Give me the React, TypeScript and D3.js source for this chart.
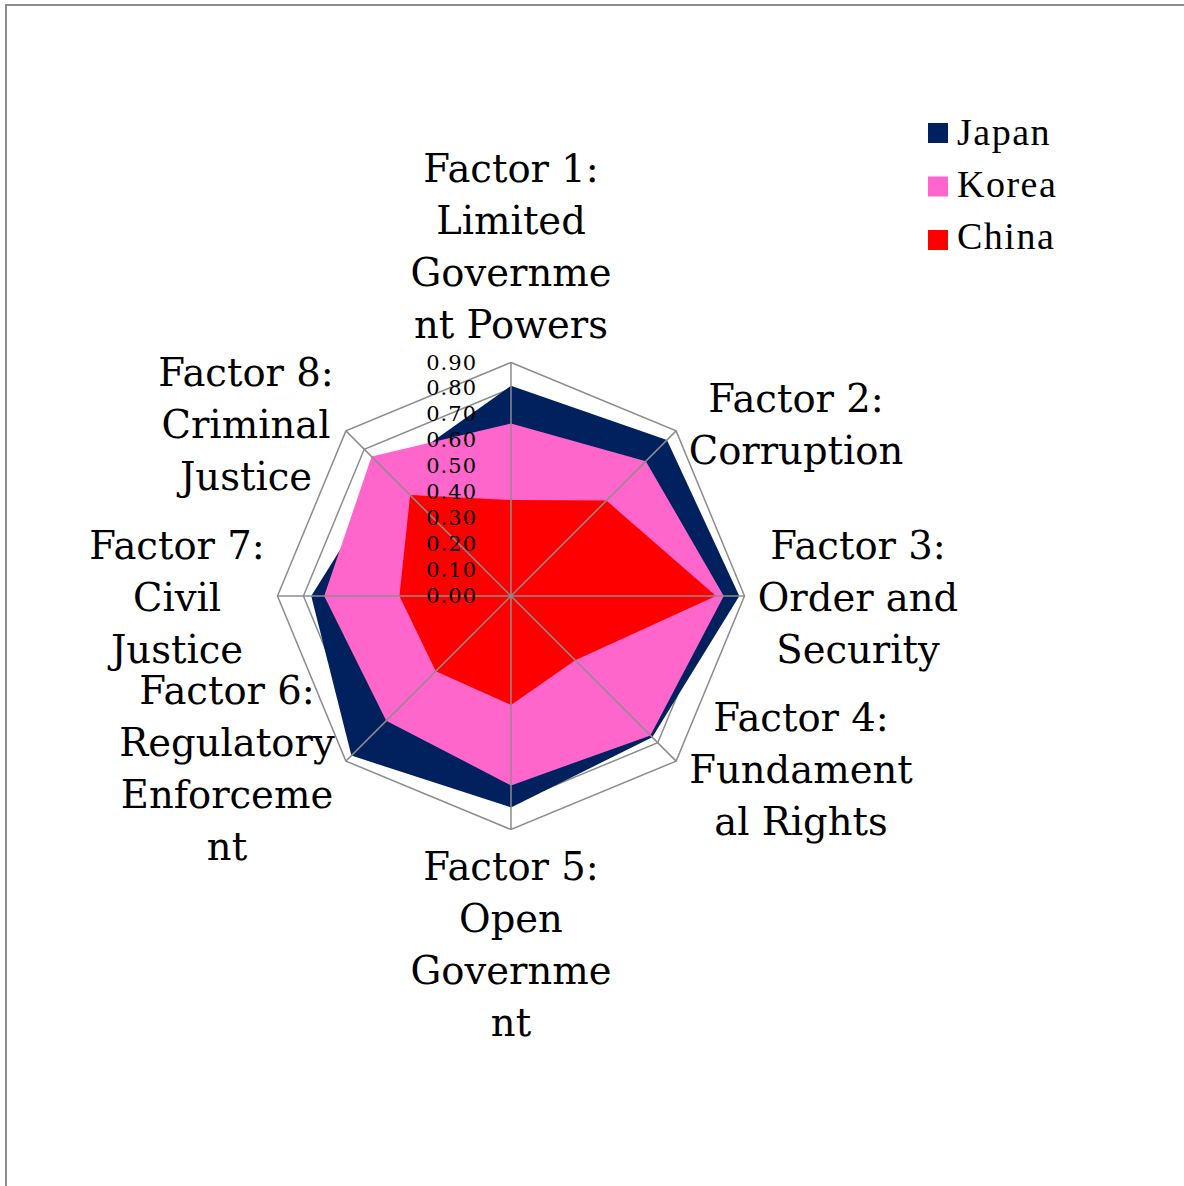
import React from "react";
import * as d3 from "d3";

const factors = [
  ["Factor 1:", "Limited", "Governme", "nt Powers"],
  ["Factor 2:", "Corruption"],
  ["Factor 3:", "Order and", "Security"],
  ["Factor 4:", "Fundament", "al Rights"],
  ["Factor 5:", "Open", "Governme", "nt"],
  ["Factor 6:", "Regulatory", "Enforceme", "nt"],
  ["Factor 7:", "Civil", "Justice"],
  ["Factor 8:", "Criminal", "Justice"],
];
const seriesNames = ["Japan", "Korea", "China"];
const japan = [0.81, 0.85, 0.88, 0.77, 0.815, 0.87, 0.77, 0.67];
const korea = [0.665, 0.735, 0.82, 0.76, 0.73, 0.68, 0.72, 0.76];
const china = [0.37, 0.52, 0.79, 0.35, 0.42, 0.41, 0.43, 0.55];
const ticks = [0, 0.1, 0.2, 0.3, 0.4, 0.5, 0.6, 0.7, 0.8, 0.9];
const colors = ["#00215E", "#FF66CC", "#FF0000"];

// label anchor positions (center x, first baseline y)
const labelPos: [number, number][] = [
  [511, 182],
  [796, 412],
  [858, 559],
  [801, 731],
  [511, 880],
  [227, 704],
  [177, 559],
  [246, 386],
];

export default function App() {
  const W = 1184, H = 1186;
  const cx = 511, cy = 596;
  const r = d3.scaleLinear().domain([0, 0.9]).range([0, 233.5]);
  const n = factors.length;
  const ang = (i: number) => (i * 2 * Math.PI) / n;
  const pt = (i: number, v: number): [number, number] => [
    cx + r(v) * Math.sin(ang(i)),
    cy - r(v) * Math.cos(ang(i)),
  ];
  const line = d3.line<[number, number]>().curve(d3.curveLinearClosed);
  const data = [japan, korea, china];
  const labelFont = "'DejaVu Serif', Georgia, serif";
  return (
    <svg width={W} height={H} style={{ position: "absolute", left: 0, top: 0 }}>
      <rect x={0} y={0} width={W} height={H} fill="#fff" />
      <rect x={6} y={5} width={W + 10} height={H + 10} fill="none" stroke="#8c8c8c" strokeWidth={2} />
      {ticks.slice(1).map((t) => (
        <path
          key={t}
          d={line(d3.range(n).map((i) => pt(i, t))) || ""}
          fill="none"
          stroke="#8c8c8c"
          strokeWidth={1.5}
        />
      ))}
      {data.map((vals, k) => (
        <path key={k} d={line(vals.map((v, i) => pt(i, v))) || ""} fill={colors[k]} stroke="none" />
      ))}
      {d3.range(n).map((i) => {
        const [x, y] = pt(i, 0.9);
        return <line key={i} x1={cx} y1={cy} x2={x} y2={y} stroke="#8c8c8c" strokeWidth={1.5} />;
      })}
      {ticks.map((t) => (
        <text
          key={t}
          x={477}
          y={cy - r(t) + 7}
          textAnchor="end"
          fontFamily={labelFont}
          fontSize={21}
          letterSpacing={1}
          fill="#000"
        >
          {d3.format(".2f")(t)}
        </text>
      ))}
      {factors.map((lines, i) => (
        <text key={i} fontFamily={labelFont} fontSize={38.5} textAnchor="middle" fill="#000">
          {lines.map((l, j) => (
            <tspan key={j} x={labelPos[i][0]} y={labelPos[i][1] + j * 52}>
              {l}
            </tspan>
          ))}
        </text>
      ))}
      {seriesNames.map((s, k) => (
        <g key={s}>
          <rect x={928} y={123 + k * 53.5} width={20} height={20} fill={colors[k]} />
          <text
            x={957}
            y={145 + k * 52}
            fontFamily="'Liberation Serif', 'Times New Roman', serif"
            fontSize={38}
            letterSpacing={1.5}
            fill="#000"
          >
            {s}
          </text>
        </g>
      ))}
    </svg>
  );
}
